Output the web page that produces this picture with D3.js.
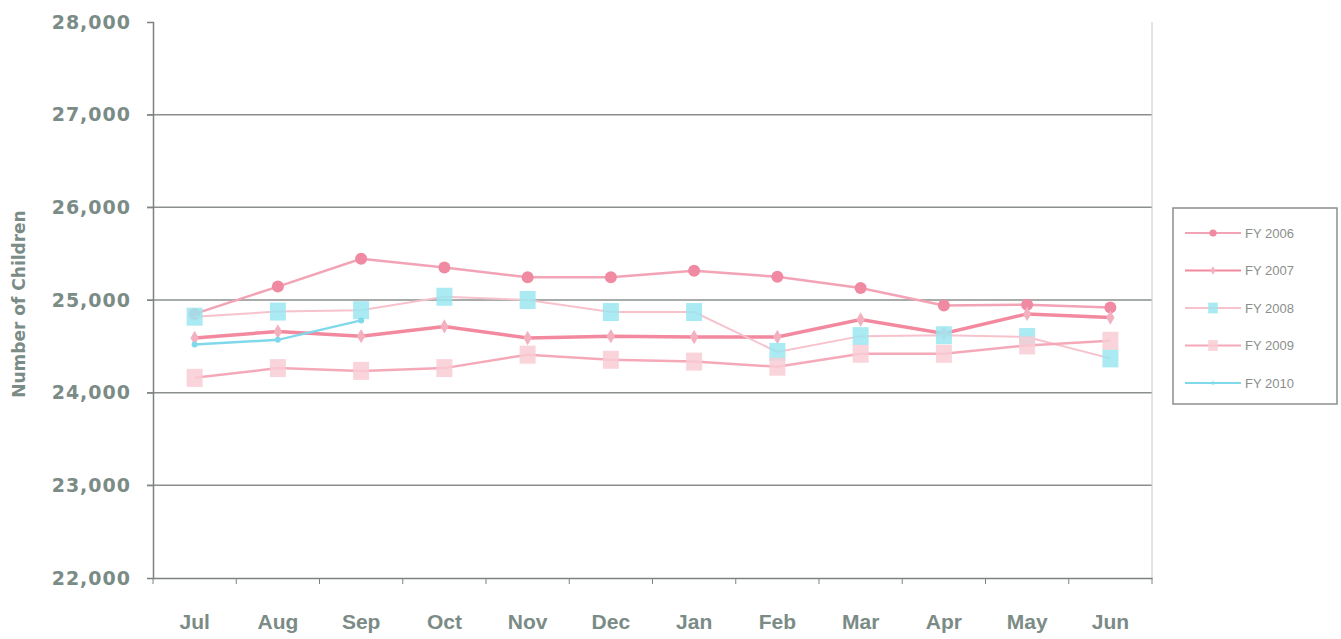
<!DOCTYPE html>
<html>
<head>
<meta charset="utf-8">
<script src="https://cdn.jsdelivr.net/npm/d3@7"></script>
<style>
  body { margin: 0; background: #fff; }
  svg { display: block; }
</style>
</head>
<body>
<div id="chart"></div>
<script>
// data
const months = ['Jul', 'Aug', 'Sep', 'Oct', 'Nov', 'Dec', 'Jan', 'Feb', 'Mar', 'Apr', 'May', 'Jun'];
const fy2006 = [24850, 25145, 25445, 25350, 25245, 25245, 25315, 25250, 25130, 24940, 24950, 24920];
const fy2007 = [24590, 24660, 24610, 24715, 24590, 24610, 24600, 24600, 24790, 24640, 24850, 24810];
const fy2008 = [24820, 24875, 24890, 25035, 25000, 24870, 24870, 24440, 24610, 24620, 24600, 24370];
const fy2009 = [24160, 24265, 24235, 24265, 24410, 24355, 24335, 24280, 24420, 24420, 24510, 24560];
const fy2010 = [24520, 24570, 24780];
const yTicks = [22000, 23000, 24000, 25000, 26000, 27000, 28000];

const series = [
  { name: 'FY 2006', values: fy2006, line: '#f2a3b5', width: 2.5, marker: 'circle', fill: '#f08aa2' },
  { name: 'FY 2007', values: fy2007, line: '#f2899f', width: 3.5, marker: 'diamond', fill: '#f5b0bf' },
  { name: 'FY 2008', values: fy2008, line: '#f7c2cc', width: 2, marker: 'square', fill: '#9be6f0' },
  { name: 'FY 2009', values: fy2009, line: '#f5a9b8', width: 2.5, marker: 'square', fill: '#f9cdd5' },
  { name: 'FY 2010', values: fy2010, line: '#7fd9ea', width: 2.5, marker: 'dot', fill: '#7fd9ea' }
];

const W = 1341, H = 639;
const margin = { top: 22, right: 189, bottom: 61, left: 153 };
const width = W - margin.left - margin.right;
const height = H - margin.top - margin.bottom;
const textColor = '#7b8b86';

const svg = d3.select('#chart').append('svg')
  .attr('width', W)
  .attr('height', H)
  .attr('font-family', 'Liberation Sans, Arial, sans-serif');

const g = svg.append('g')
  .attr('transform', `translate(${margin.left},${margin.top})`);

const x = d3.scaleBand().domain(months).range([0, width]);
const y = d3.scaleLinear().domain([22000, 28000]).range([height, 0]);

// gridlines
g.append('g')
  .selectAll('line')
  .data(yTicks.filter(d => d > 22000 && d < 28000))
  .join('line')
    .attr('x1', -6)
    .attr('x2', width)
    .attr('y1', d => y(d))
    .attr('y2', d => y(d))
    .attr('stroke', '#8a8f8c')
    .attr('stroke-width', 1.5);

// right border
g.append('line')
  .attr('x1', width).attr('x2', width)
  .attr('y1', 0).attr('y2', height)
  .attr('stroke', '#c8cccb');

// y axis
const yAxis = g.append('g')
  .call(d3.axisLeft(y).tickValues(yTicks).tickFormat(d3.format(',')).tickSize(6).tickPadding(16));
yAxis.select('.domain').attr('stroke', '#7d8280').attr('stroke-width', 1.5);
yAxis.selectAll('.tick line').attr('stroke', '#7d8280');
yAxis.selectAll('text')
  .attr('fill', textColor)
  .attr('font-family', 'DejaVu Sans, sans-serif')
  .attr('font-size', 19)
  .attr('letter-spacing', 1)
  .attr('font-weight', 'bold');

// x axis
const xAxis = g.append('g')
  .attr('transform', `translate(0,${height})`)
  .call(d3.axisBottom(x).tickSize(0).tickPadding(36));
xAxis.select('.domain').attr('stroke', '#7d8280').attr('stroke-width', 1.5);
xAxis.selectAll('text')
  .attr('fill', textColor)
  .attr('font-size', 21)
  .attr('font-weight', 'bold');
xAxis.append('g')
  .selectAll('line')
  .data(months.concat(['end']))
  .join('line')
    .attr('x1', (d, i) => i * x.step())
    .attr('x2', (d, i) => i * x.step())
    .attr('y1', 0)
    .attr('y2', 6)
    .attr('stroke', '#7d8280');

// y axis title
svg.append('text')
  .attr('transform', `translate(25,${margin.top + y(25000) + 4}) rotate(-90)`)
  .attr('text-anchor', 'middle')
  .attr('fill', textColor)
  .attr('font-family', 'DejaVu Sans, sans-serif')
  .attr('font-size', 17)
  .attr('font-weight', 'bold')
  .text('Number of Children');

const line = d3.line()
  .x((d, i) => x(months[i]) + x.bandwidth() / 2)
  .y(d => y(d));

function drawMarker(sel, s) {
  if (s.marker === 'circle') {
    sel.append('circle').attr('r', 6).attr('fill', s.fill);
  } else if (s.marker === 'diamond') {
    sel.append('path').attr('d', d3.symbol(d3.symbolDiamond, 60)).attr('fill', s.fill);
  } else if (s.marker === 'square') {
    sel.append('rect').attr('x', -8).attr('y', -9).attr('width', 16).attr('height', 18)
      .attr('fill', s.fill).attr('opacity', 0.85);
  } else {
    sel.append('circle').attr('r', 3).attr('fill', s.fill);
  }
}

const plot = g.append('g');
series.forEach(s => {
  plot.append('path')
    .datum(s.values)
    .attr('fill', 'none')
    .attr('stroke', s.line)
    .attr('stroke-width', s.width)
    .attr('d', line);

  plot.append('g')
    .selectAll('g')
    .data(s.values)
    .join('g')
      .attr('transform', (d, i) => `translate(${x(months[i]) + x.bandwidth() / 2},${y(d)})`)
      .each(function() { drawMarker(d3.select(this), s); });
});

// legend
const legend = svg.append('g').attr('transform', 'translate(1173,208)');
legend.append('rect')
  .attr('width', 164)
  .attr('height', 196)
  .attr('fill', '#fff')
  .attr('stroke', '#8a8f8c')
  .attr('stroke-width', 1.5);

const item = legend.selectAll('g.item')
  .data(series)
  .join('g')
    .attr('class', 'item')
    .attr('transform', (d, i) => `translate(12,${25 + i * 37.5})`);

item.append('line')
  .attr('x1', 0).attr('x2', 56)
  .attr('stroke', d => d.line)
  .attr('stroke-width', 2);
item.append('g')
  .attr('transform', 'translate(28,0) scale(0.6)')
  .each(function(d) { drawMarker(d3.select(this), d); });
item.append('text')
  .attr('x', 60)
  .attr('dy', '0.35em')
  .attr('fill', '#8a8f8c')
  .attr('font-size', 13)
  .text(d => d.name);
</script>
</body>
</html>
